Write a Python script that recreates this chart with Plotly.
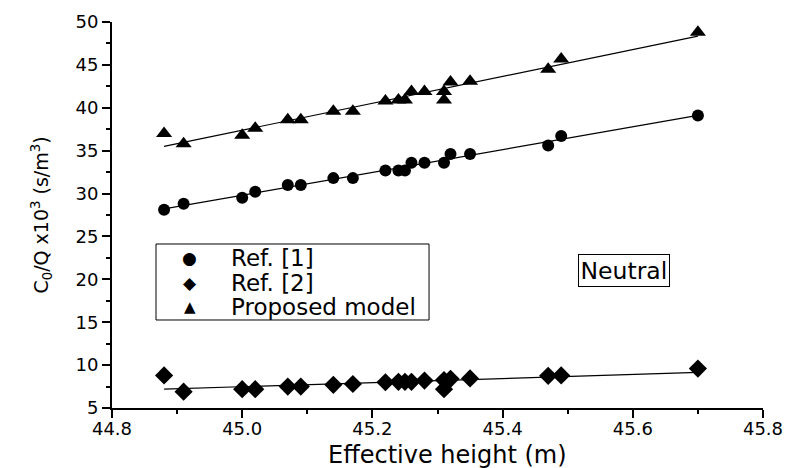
import numpy as np
import plotly.graph_objects as go

# Data
x_ref1 = [44.88, 44.91, 45.00, 45.02, 45.07, 45.09, 45.14, 45.17, 45.22, 45.24,
          45.25, 45.26, 45.28, 45.31, 45.32, 45.35, 45.47, 45.49, 45.70]
y_ref1 = [28.1, 28.8, 29.5, 30.2, 31.0, 31.0, 31.8, 31.8, 32.7, 32.7,
          32.7, 33.6, 33.6, 33.6, 34.6, 34.6, 35.6, 36.7, 39.1]

x_ref2 = [44.88, 44.91, 45.00, 45.02, 45.07, 45.09, 45.14, 45.17, 45.22, 45.24,
          45.25, 45.26, 45.28, 45.31, 45.31, 45.32, 45.35, 45.47, 45.49, 45.70]
y_ref2 = [8.8, 6.9, 7.2, 7.2, 7.5, 7.5, 7.7, 7.8, 8.0, 8.05,
          8.05, 8.05, 8.2, 8.25, 7.2, 8.4, 8.45, 8.75, 8.8, 9.6]

x_prop = [44.88, 44.91, 45.00, 45.02, 45.07, 45.09, 45.14, 45.17, 45.22, 45.24,
          45.25, 45.26, 45.28, 45.31, 45.31, 45.32, 45.35, 45.47, 45.49, 45.70]
y_prop = [37.0, 35.8, 36.8, 37.6, 38.6, 38.6, 39.6, 39.6, 40.8, 40.9,
          40.9, 41.9, 41.9, 41.9, 40.9, 43.0, 43.1, 44.5, 45.7, 48.8]

x_ticks = [44.8, 45.0, 45.2, 45.4, 45.6, 45.8]
x_ticklabels = ["44.8", "45.0", "45.2", "45.4", "45.6", "45.8"]
y_ticks = [5, 10, 15, 20, 25, 30, 35, 40, 45, 50]

series = [
    ("Ref. [1]", x_ref1, y_ref1, "circle", 12, "\u25CF"),
    ("Ref. [2]", x_ref2, y_ref2, "diamond", 14, "\u25C6"),
    ("Proposed model", x_prop, y_prop, "triangle-up", 14, "\u25B2"),
]

FONT = "DejaVu Sans"
fig = go.Figure()

for name, xs, ys, sym, sz, uc in series:
    xa = np.array(xs)
    ya = np.array(ys)
    k, b = np.polyfit(xa, ya, 1)
    xl = np.array([xa.min(), xa.max()])
    fig.add_trace(go.Scatter(x=xl, y=k * xl + b, mode="lines",
                             line=dict(color="black", width=1.2),
                             showlegend=False, hoverinfo="skip"))

for name, xs, ys, sym, sz, uc in series:
    fig.add_trace(go.Scatter(x=xs, y=ys, mode="markers", name=name,
                             showlegend=False,
                             marker=dict(symbol=sym, size=sz, color="black",
                                         line=dict(width=0))))

xr = [44.8, 45.8]
yr = [5, 50]
minor_x = [44.9, 45.1, 45.3, 45.5, 45.7]
minor_y = [7.5, 12.5, 17.5, 22.5, 27.5, 32.5, 37.5, 42.5, 47.5]

# Manual legend (box + symbols + labels) in paper coordinates
leg_rows = [0.3886, 0.3238, 0.2617]
annotations = []
sym_sizes = [17, 17, 15]
for (name, xs, ys, sym, sz, uc), yy, ss in zip(series, leg_rows, sym_sizes):
    annotations.append(dict(text=uc, x=0.1198, y=yy, xref="paper", yref="paper",
                            xanchor="center", yanchor="middle", showarrow=False,
                            font=dict(size=ss, family=FONT)))
    annotations.append(dict(text=name, x=0.1797, y=yy, xref="paper", yref="paper",
                            xanchor="left", yanchor="middle", showarrow=False,
                            font=dict(size=23, family=FONT)))

annotations.append(dict(text="Neutral", x=0.7865, y=0.355, xref="paper",
                        yref="paper", xanchor="center", yanchor="middle",
                        showarrow=False, font=dict(size=23.5, family=FONT),
                        bordercolor="black", borderwidth=1, borderpad=1.5,
                        bgcolor="white"))

# x-axis title (as annotation so its position can be matched)
annotations.append(dict(text="Effective height (m)", x=0.5146, y=-0.1218,
                        xref="paper", yref="paper", xanchor="center",
                        yanchor="middle", showarrow=False,
                        font=dict(size=24, family=FONT)))

fig.update_layout(
    width=785, height=468,
    margin=dict(l=112, r=22, t=22, b=60),
    paper_bgcolor="white", plot_bgcolor="white",
    font=dict(family=FONT, color="black", size=18),
    showlegend=False,
    xaxis=dict(range=xr, tickmode="array", tickvals=x_ticks,
               ticktext=x_ticklabels, automargin=False,
               ticks="outside", ticklen=8, tickwidth=1.5, tickcolor="black",
               minor=dict(tickvals=minor_x, ticks="outside", ticklen=4,
                          tickwidth=1.5, tickcolor="black"),
               showline=True, linecolor="black", linewidth=2,
               showgrid=False, zeroline=False, ticklabelstandoff=-5,
               tickfont=dict(size=18, family=FONT)),
    yaxis=dict(range=yr, tickmode="array", tickvals=y_ticks, automargin=False,
               ticks="outside", ticklen=8, tickwidth=1.5, tickcolor="black",
               minor=dict(tickvals=minor_y, ticks="outside", ticklen=4,
                          tickwidth=1.5, tickcolor="black"),
               showline=True, linecolor="black", linewidth=2,
               showgrid=False, zeroline=False,
               tickfont=dict(size=18, family=FONT),
               title=dict(text="C<sub>0</sub>/Q x10<sup>3</sup> (s/m<sup>3</sup>)",
                          font=dict(size=19, family=FONT), standoff=22)),
    xaxis2=dict(range=xr, overlaying="x", side="top", anchor="y",
                tickmode="array", tickvals=x_ticks, automargin=False,
                ticks="inside", ticklen=8, tickwidth=1.5, tickcolor="black",
                minor=dict(tickvals=minor_x, ticks="inside", ticklen=4,
                           tickwidth=1.5, tickcolor="black"),
                showticklabels=False, showline=True, linecolor="black",
                linewidth=2, showgrid=False, zeroline=False),
    yaxis2=dict(range=yr, overlaying="y", side="right", anchor="x",
                tickmode="array", tickvals=y_ticks, automargin=False,
                ticks="inside", ticklen=8, tickwidth=1.5, tickcolor="black",
                minor=dict(tickvals=minor_y, ticks="inside", ticklen=4,
                           tickwidth=1.5, tickcolor="black"),
                showticklabels=False, showline=True, linecolor="black",
                linewidth=2, showgrid=False, zeroline=False),
    shapes=[dict(type="rect", xref="paper", yref="paper",
                 x0=0.0676, x1=0.487, y0=0.228, y1=0.4249,
                 line=dict(color="black", width=1), fillcolor="white",
                 layer="above")],
    annotations=annotations,
)

# Remove the default page margin so the 785x468 figure fills the window exactly
fig.write_html("out.html",
               config={"displayModeBar": False},
               post_script="document.body.style.margin='0';"
                           "document.body.style.overflow='hidden';")
